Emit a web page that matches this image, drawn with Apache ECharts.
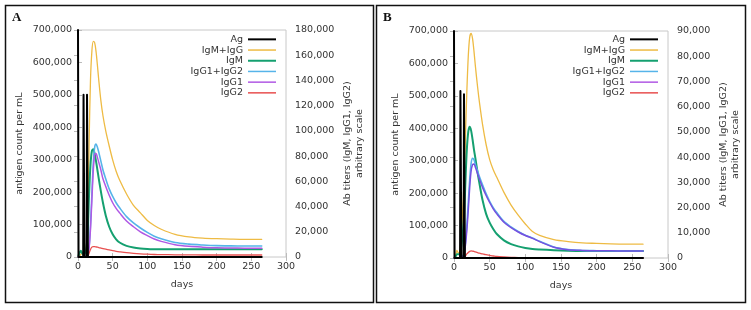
<!DOCTYPE html>
<html>
<head>
<meta charset="utf-8">
<script src="https://cdn.jsdelivr.net/npm/echarts@6/dist/echarts.min.js"></script>
<style>
html,body{margin:0;padding:0;background:#fff;}
#chart{width:751px;height:310px;}
</style>
</head>
<body>
<div id="chart"></div>
<script>
// ---- data (antibody values in thousands, antigen in thousands) ----
const seriesNames = ['Ag', 'IgM+IgG', 'IgM', 'IgG1+IgG2', 'IgG1', 'IgG2'];
const xTicks = [0, 50, 100, 150, 200, 250, 300];
const days = [0,2,4,6,8,10,12,14,16,18,20,22,24,26,28,30,33,36,40,45,50,55,60,70,80,90,100,110,120,140,160,180,200,220,240,265];

// Panel A
const A_agDays = [0, 0.8, 7.5, 8, 8.8, 9.3, 12.5, 13, 13.8, 14.3, 265];
const A_ag     = [700, 0, 0, 500, 500, 0, 0, 500, 500, 0, 0];
const A_igmIgg = [0,0.5,2,3,3,4,8,25,90,140,163,171,170,163,152,140,124,112,100,88,77,68,61,50,41,35,29,25,22,18,16,15,14.5,14.2,14,14];
const A_igm    = [0,3,5,3,2,3,6,20,50,73,84,85.5,82,76,69,62,52,43,33,24,18,14,11.5,8.8,7.5,6.8,6.4,6.2,6.1,6.1,6.1,6.1,6.1,6.1,6.1,6.1];
const A_igg12  = [0,0,0,0,0,0,0.5,2,8,25,50,74,87,89.5,87,83,76,69,62,54,48,43,39,32,27,23,19.5,16.5,14.5,11.5,10.2,9.5,9,8.8,8.7,8.7];
const A_igg1   = [0,0,0,0,0,0,0.4,1.8,7,22,45,68,81,82,79,75,69,62,56,49,43,38.5,35,28.5,24,20,17,14.3,12.4,9.8,8.5,7.8,7.3,7.1,7,6.9];
const A_igg2   = [0,0,0,0,0,0,0,0.5,3,6,7.8,8.2,8.2,8,7.8,7.5,7.1,6.7,6.2,5.6,5,4.5,4.1,3.4,2.9,2.5,2.2,2,1.9,1.75,1.65,1.6,1.6,1.6,1.6,1.6];

// Panel B
const B_agDays = [0, 0.8, 8.5, 9, 9.8, 10.3, 13.5, 14, 14.8, 15.3, 265];
const B_ag     = [700, 0, 0, 515, 515, 0, 0, 505, 505, 0, 0];
const B_igmIgg = [0,0.3,3,2,2.5,8,18,30,48,66,80,87.5,89,87,82,76,68,61,53,45,39,35,32,26,21,17,13.5,10.5,9,7.3,6.5,6,5.8,5.6,5.5,5.5];
const B_igm    = [0,0.5,1.5,1.5,1.5,4,9,16,30,43,50,52,50.5,47,43,39.5,34,29,23,17.5,14,11.5,9.5,7,5.5,4.6,4,3.6,3.4,3.1,2.9,2.8,2.8,2.8,2.8,2.8];
const B_igg12  = [0,0,0,0,0,0,0.5,2,6,13,22,31,37.5,39.5,39,37,34.5,32,29,25.5,22.5,20,18,14.5,12.3,10.5,9,7.9,6.6,4.4,3.4,3,2.9,2.85,2.8,2.8];
const B_igg1   = [0,0,0,0,0,0,0.4,1.5,5,11,19,28,34.5,37,37.3,36,33.5,31,28,24.8,22,19.5,17.5,14.2,12,10.3,8.9,7.8,6.5,4.3,3.3,3,2.9,2.85,2.8,2.8];
const B_igg2   = [0,0,0,0,0,0,0,0.2,0.8,1.6,2.2,2.6,2.8,2.7,2.6,2.4,2.1,1.9,1.6,1.3,1,0.8,0.6,0.4,0.25,0.15,0.1,0.05,0,0,0,0,0,0,0,0];

// ---- styling ----
const FONT = 'DejaVu Sans';
const TXT = '#333';
const colors = {'Ag':'#000000','IgM+IgG':'#eebb44','IgM':'#15a070','IgG1+IgG2':'#56b4e9','IgG1':'#b058e4','IgG2':'#e85050'};
const widths = {'Ag':2,'IgM+IgG':1.3,'IgM':2,'IgG1+IgG2':1.6,'IgG1':1.5,'IgG2':1.3};

function pairs(xs, ys){ return xs.map((x,i)=>[x, ys[i]*1000]); }
function fmt(v){ return String(v).replace(/\B(?=(\d{3})+(?!\d))/g, ','); }

const grids = [
  {left:78, right:465, top:30, bottom:53, show:true, borderColor:'#c8c8c8', borderWidth:1},
  {left:454, right:83, top:31, bottom:52, show:true, borderColor:'#c8c8c8', borderWidth:1}
];

function xAx(g, top){
  return {type:'value', gridIndex:g, min:0, max:300, interval:50, position: top?'top':'bottom',
    name: top?'':'days', nameLocation:'middle', nameGap:23,
    nameTextStyle:{fontFamily:FONT,fontSize:9.5,color:TXT},
    axisLine:{show:false}, splitLine:{show:false},
    axisTick:{show:true, inside:true, length:4, lineStyle:{color:'#bbb'}},
    axisLabel:{show:!top, margin:5, fontFamily:FONT, fontSize:9.5, color:TXT}};
}
function yAx(g, right, max, interval, name, gap){
  return {type:'value', gridIndex:g, min:0, max:max, interval:interval, position: right?'right':'left',
    name:name, nameLocation:'middle', nameRotate:90, nameGap:gap,
    nameTextStyle:{fontFamily:FONT,fontSize:9.5,color:TXT,lineHeight:12},
    axisLine:{show:false}, splitLine:{show:false},
    axisTick:{show:true, inside:true, length:4, lineStyle:{color:'#bbb'}},
    axisLabel:{margin: right?9:6, fontFamily:FONT, fontSize:9.5, color:TXT, formatter:fmt}};
}

const xAxis = [xAx(0,false), xAx(0,true), xAx(1,false), xAx(1,true)];
const yAxis = [
  yAx(0,false,700000,100000,'antigen count per mL',52),
  yAx(0,true,180000,20000,'Ab titers (IgM, IgG1, IgG2)\narbitrary scale',56),
  yAx(1,false,700000,100000,'antigen count per mL',52),
  yAx(1,true,90000,10000,'Ab titers (IgM, IgG1, IgG2)\narbitrary scale',50)
];

function line(name, data, xi, yi, smooth, colorOverride){
  return {type:'line', name:name, data:data, xAxisIndex:xi, yAxisIndex:yi,
    showSymbol:false, symbol:'none', smooth: smooth?0.3:false,
    lineStyle:{color:colorOverride||colors[name], width:widths[name], join:'round', cap:'round'}, itemStyle:{color:colors[name]},
    silent:true, z: name==='Ag'?5:3};
}

const series = [
  line('IgM+IgG', pairs(days,A_igmIgg), 0, 1, true),
  line('IgM', pairs(days,A_igm), 0, 1, true),
  line('IgG1+IgG2', pairs(days,A_igg12), 0, 1, true),
  line('IgG1', pairs(days,A_igg1), 0, 1, true),
  line('IgG2', pairs(days,A_igg2), 0, 1, true),
  line('Ag', pairs(A_agDays,A_ag), 0, 0, false),
  line('IgM+IgG', pairs(days,B_igmIgg), 2, 3, true),
  line('IgM', pairs(days,B_igm), 2, 3, true),
  line('IgG1+IgG2', pairs(days,B_igg12), 2, 3, true),
  line('IgG1', pairs(days,B_igg1), 2, 3, true, '#7650e0'),
  line('IgG2', pairs(days,B_igg2), 2, 3, true),
  line('Ag', pairs(B_agDays,B_ag), 2, 2, false)
];

function legendData(){
  return seriesNames.map(n=>({name:n, icon: 'path://M0,0H28V'+(widths[n]>=2?2:1.5)+'H0Z', itemStyle:{color:colors[n]}}));
}
function legend(right, top){
  return {orient:'vertical', right:right, top:top, align:'right', itemWidth:28, itemHeight:10.7, itemGap:0,
    selectedMode:false, padding:0, textStyle:{fontFamily:FONT, fontSize:9.5, color:TXT, lineHeight:10.7},
    data: legendData()};
}

const graphic = [
  {type:'rect', shape:{x:5.5,y:5.5,width:368,height:297}, style:{fill:'none', stroke:'#111', lineWidth:1.5}, silent:true},
  {type:'rect', shape:{x:376.5,y:5.5,width:369,height:297}, style:{fill:'none', stroke:'#111', lineWidth:1.5}, silent:true},
  {type:'text', left:12, top:11, style:{text:'A', font:'bold 13px "Liberation Serif"', fill:'#111'}},
  {type:'text', left:383, top:11, style:{text:'B', font:'bold 13px "Liberation Serif"', fill:'#111'}}
];

const chart = echarts.init(document.getElementById('chart'), null, {renderer:'canvas'});
chart.setOption({
  animation:false,
  backgroundColor:'#fff',
  grid:grids, xAxis:xAxis, yAxis:yAxis, series:series,
  legend:[legend(475, 34), legend(93, 34)],
  graphic:graphic
});
</script>
</body>
</html>
